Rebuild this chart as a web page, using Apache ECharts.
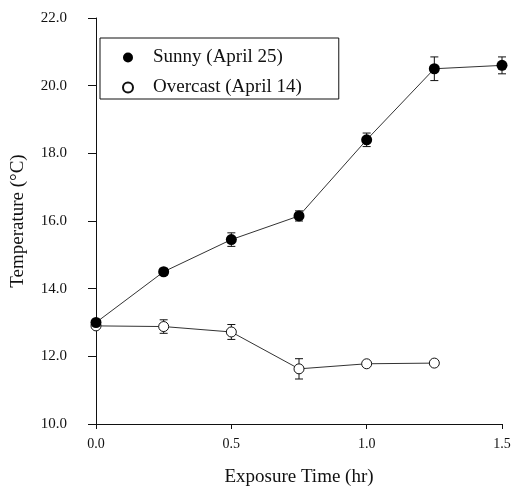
<!DOCTYPE html>
<html>
<head>
<meta charset="utf-8">
<script src="https://cdn.jsdelivr.net/npm/echarts@6/dist/echarts.min.js"></script>
<style>
  html, body { margin: 0; padding: 0; background: #fff; }
  #myChart { width: 513px; height: 489px; }
</style>
</head>
<body>
<div id="myChart"></div>
<script>
// exposure time (hr)
var hours = [0.0, 0.25, 0.5, 0.75, 1.0, 1.25, 1.5];

// sunny day, April 25
var sunnyTemp = [13.0, 14.5, 15.45, 16.15, 18.4, 20.5, 20.6];
var sunnyErr  = [0.05, 0.1, 0.2, 0.15, 0.2, 0.35, 0.25];

// overcast day, April 14 (no reading at 1.5 hr)
var overcastHours = [0.0, 0.25, 0.5, 0.75, 1.0, 1.25];
var overcastTemp  = [12.9, 12.88, 12.72, 11.63, 11.78, 11.8];
var overcastErr   = [0.05, 0.2, 0.22, 0.3, 0.05, 0.05];

var serif = '"Liberation Serif", "DejaVu Serif", serif';

function pairs(xs, ys) {
    return xs.map(function (x, i) { return [x, ys[i]]; });
}
function errRows(xs, ys, es) {
    return xs.map(function (x, i) { return [x, ys[i], es[i]]; });
}

// vertical error bar with small caps
function errorBar(params, api) {
    var x = api.value(0), y = api.value(1), e = api.value(2);
    var hi = api.coord([x, y + e]);
    var lo = api.coord([x, y - e]);
    var cap = 4;
    var style = { stroke: '#111', lineWidth: 1 };
    return {
        type: 'group',
        children: [
            { type: 'line', shape: { x1: hi[0], y1: hi[1], x2: lo[0], y2: lo[1] }, style: style },
            { type: 'line', shape: { x1: hi[0] - cap, y1: hi[1], x2: hi[0] + cap, y2: hi[1] }, style: style },
            { type: 'line', shape: { x1: lo[0] - cap, y1: lo[1], x2: lo[0] + cap, y2: lo[1] }, style: style }
        ]
    };
}

var option = {
    animation: false,
    backgroundColor: '#fff',
    grid: {
        left: 96,
        right: 11,
        top: 18,
        bottom: 65,
        outerBoundsMode: 'none'
    },
    legend: {
        data: ['Sunny (April 25)', 'Overcast (April 14)'],
        orient: 'vertical',
        left: 100,
        top: 38,
        icon: 'circle',
        itemWidth: 10,
        itemHeight: 10,
        itemGap: 11,
        padding: [10, 37, 2, 22],
        borderColor: '#111',
        borderWidth: 1,
        textStyle: {
            fontFamily: serif,
            fontSize: 19,
            color: '#111',
            padding: [0, 0, 0, 15]
        }
    },
    xAxis: {
        type: 'value',
        min: 0,
        max: 1.5,
        interval: 0.5,
        name: 'Exposure Time (hr)',
        nameLocation: 'middle',
        nameGap: 44,
        nameTextStyle: { fontFamily: serif, fontSize: 19, color: '#111' },
        axisLine: { show: true, lineStyle: { color: '#111', width: 1 } },
        axisTick: { show: true, length: 5, lineStyle: { color: '#111' } },
        axisLabel: {
            fontFamily: serif, fontSize: 14, color: '#111', margin: 13,
            formatter: function (v) { return v.toFixed(1); }
        },
        splitLine: { show: false }
    },
    yAxis: {
        type: 'value',
        min: 10,
        max: 22,
        interval: 2,
        offset: 16,
        name: 'Temperature (°C)',
        nameLocation: 'middle',
        nameGap: 52,
        nameTextStyle: { fontFamily: serif, fontSize: 19, color: '#111' },
        axisLine: { show: true, lineStyle: { color: '#111', width: 1 } },
        axisTick: { show: true, length: 8, lineStyle: { color: '#111' } },
        axisLabel: {
            fontFamily: serif, fontSize: 15, color: '#111', margin: 13,
            formatter: function (v) { return v.toFixed(1); }
        },
        splitLine: { show: false }
    },
    series: [
        {
            type: 'custom',
            name: 'sunnyErr',
            renderItem: errorBar,
            data: errRows(hours, sunnyTemp, sunnyErr),
            z: 1
        },
        {
            type: 'custom',
            name: 'overcastErr',
            renderItem: errorBar,
            data: errRows(overcastHours, overcastTemp, overcastErr),
            z: 1
        },
        {
            name: 'Overcast (April 14)',
            type: 'line',
            data: pairs(overcastHours, overcastTemp),
            symbol: 'circle',
            symbolSize: 10,
            lineStyle: { color: '#333', width: 1 },
            itemStyle: { color: '#fff', borderColor: '#111', borderWidth: 1 },
            z: 3
        },
        {
            name: 'Sunny (April 25)',
            type: 'line',
            data: pairs(hours, sunnyTemp),
            symbol: 'circle',
            symbolSize: 11,
            lineStyle: { color: '#333', width: 1 },
            itemStyle: { color: '#000', borderColor: '#000', borderWidth: 0 },
            z: 4
        }
    ]
};

var myChart = echarts.init(document.getElementById('myChart'));
myChart.setOption(option);
</script>
</body>
</html>
